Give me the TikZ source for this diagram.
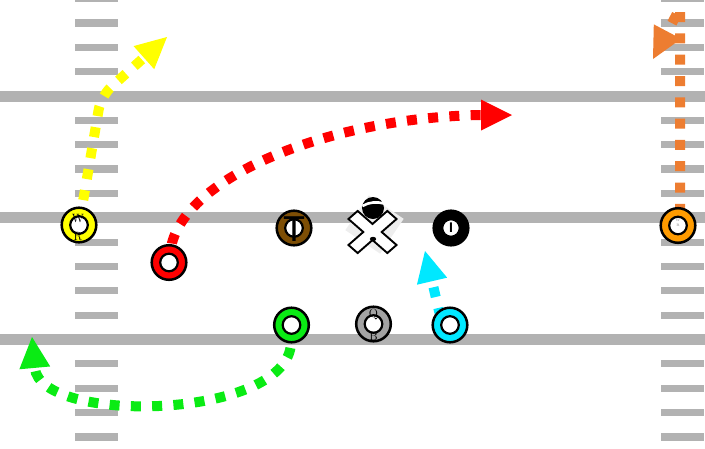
\documentclass[tikz,border=0pt]{standalone}
\usepackage{fontspec}
\newfontfamily\labsans{Liberation Sans}
\usetikzlibrary{arrows.meta}
\definecolor{fieldgray}{RGB}{178,178,178}
\definecolor{pyellow}{RGB}{255,255,0}
\definecolor{pred}{RGB}{255,0,0}
\definecolor{pbrown}{RGB}{125,78,5}
\definecolor{pgreen}{RGB}{10,235,20}
\definecolor{pgray}{RGB}{163,163,163}
\definecolor{pcyan}{RGB}{0,232,255}
\definecolor{porange}{RGB}{255,155,0}
\definecolor{rorange}{RGB}{237,125,49}
\definecolor{xshade}{RGB}{238,238,238}
\pgfdeclarelayer{field}
\pgfdeclarelayer{routes}
\pgfsetlayers{field,routes,main}
\begin{document}
\begin{tikzpicture}[x=1pt,y=-1pt,
  yardline/.style={fill=fieldgray},
  hashmark/.style={fill=fieldgray},
  route/.style={line width=10pt, dash pattern=on 10pt off 11.3pt,
    -{Triangle[length=31pt,width=31pt,line width=0pt]}},
  player/.style={circle, draw=black, line width=2.5pt, minimum size=34.6pt, inner sep=0pt,
    path picture={\draw[line width=2.2pt, fill=white] (path picture bounding box.center) circle[radius=8.8pt];}},
  lab/.style={inner sep=0pt, font=\fontsize{12}{12}\selectfont},
]
\path[use as bounding box] (0,0) rectangle (705,448);

% field
\begin{pgfonlayer}{field}
\foreach \yc in {96,217.5,339}
  \fill[yardline] (0,\yc-5.5) rectangle (705,\yc+5.5);
\foreach \k in {-4,-3,-2,-1,1,2,3,4,6,7,8,9,11,12,13,14} {
  \fill[hashmark] (75,96+24.35*\k-3.6) rectangle (118,96+24.35*\k+3.6);
  \fill[hashmark] (661,96+24.35*\k-3.6) rectangle (704,96+24.35*\k+3.6);
}
\end{pgfonlayer}

% center icon
\fill[xshade, rotate around={-34:(374.5,224.5)}] (353.5,203.5) rectangle (395.5,245.5);
\fill[black] (373,208) circle[radius=11];
\draw[white, line width=2.6pt] (362.5,206) .. controls (369,202) and (377,201.5) .. (384,203.5);
\draw[fill=white, line width=1.9pt, line join=miter, shift={(372.5,232)}, yscale=0.875, rotate=45]
  (6.5,6.5) -- (27.5,6.5) -- (27.5,-6.5) -- (6.5,-6.5) -- (6.5,-27.5) -- (-6.5,-27.5)
  -- (-6.5,-6.5) -- (-27.5,-6.5) -- (-27.5,6.5) -- (-6.5,6.5) -- (-6.5,27.5) -- (6.5,27.5) -- cycle;
\fill[black] (373,239) ellipse[x radius=3.2, y radius=2.2];

% players
\node[player, fill=pyellow] (wr) at (79,225) {};
\node[lab] (wrw) at (78,218.5) {W};
\node[lab] (wrr) at (78,237) {R};
\node[player, fill=pred] (rb) at (169,262.5) {};
\node[player, fill=pbrown] (te) at (294,228) {};
\node[inner sep=0pt, font=\labsans\fontsize{36}{36}\selectfont] (tet) at (294,229.5) {T};
\node[player, fill=black] (bk) at (451,228) {};
\node[inner sep=0pt, font=\labsans\bfseries\fontsize{14}{14}\selectfont] (bki) at (451,228) {I};
\node[player, fill=pgreen] (gr) at (291.5,325) {};
\node[player, fill=pgray] (qb) at (373.5,324) {};
\node[lab] (qbq) at (373.5,314) {Q};
\node[lab] (qbb) at (373.5,336) {B};
\node[player, fill=pcyan] (cy) at (450,325) {};
\node[player, fill=porange] (wro) at (678,225.5) {};
\node[inner sep=0pt, text=gray, font=\fontsize{3.5}{3.5}\selectfont] (wrow) at (678,220.5) {W};
\node[inner sep=0pt, text=gray, font=\fontsize{3.5}{3.5}\selectfont] (wror) at (678,225) {R};

% route points
\coordinate (ycorner) at (101,96);
\coordinate (ytip) at (167,37);
\coordinate (rstart) at (172,243);
\coordinate (rc1) at (190,175);
\coordinate (rc2) at (330,118);
\coordinate (rbase) at (480,115);
\coordinate (rtip) at (512,115);
\coordinate (gstart) at (291,343);
\coordinate (gc1) at (288,420);
\coordinate (gc2) at (40,425);
\coordinate (gtip) at (32,337);
\coordinate (cmid) at (439,311);
\coordinate (ctip) at (425,251);
\coordinate (ostart) at (680,207);
\coordinate (oturn) at (680,8);
\coordinate (otip) at (653,59);

% routes
\begin{pgfonlayer}{routes}
\draw[route, pyellow, dash phase=17.3pt, rounded corners=14pt] (wr.center) -- (ycorner) -- (ytip);
\draw[route, pred, dash phase=2.1pt] (rb.center) -- (rstart) .. controls (rc1) and (rc2) .. (rbase) -- (rtip);
\draw[route, pgreen, dash phase=19.6pt] (gr.center) -- (gstart) .. controls (gc1) and (gc2) .. (gtip);
\draw[route, pcyan, dash phase=10.4pt] (cy.center) -- (cmid) -- (ctip);
\draw[route, rorange, dash phase=9.5pt] (wro.center) -- (ostart) -- (oturn) -- (otip);
\end{pgfonlayer}
\end{tikzpicture}
\end{document}
